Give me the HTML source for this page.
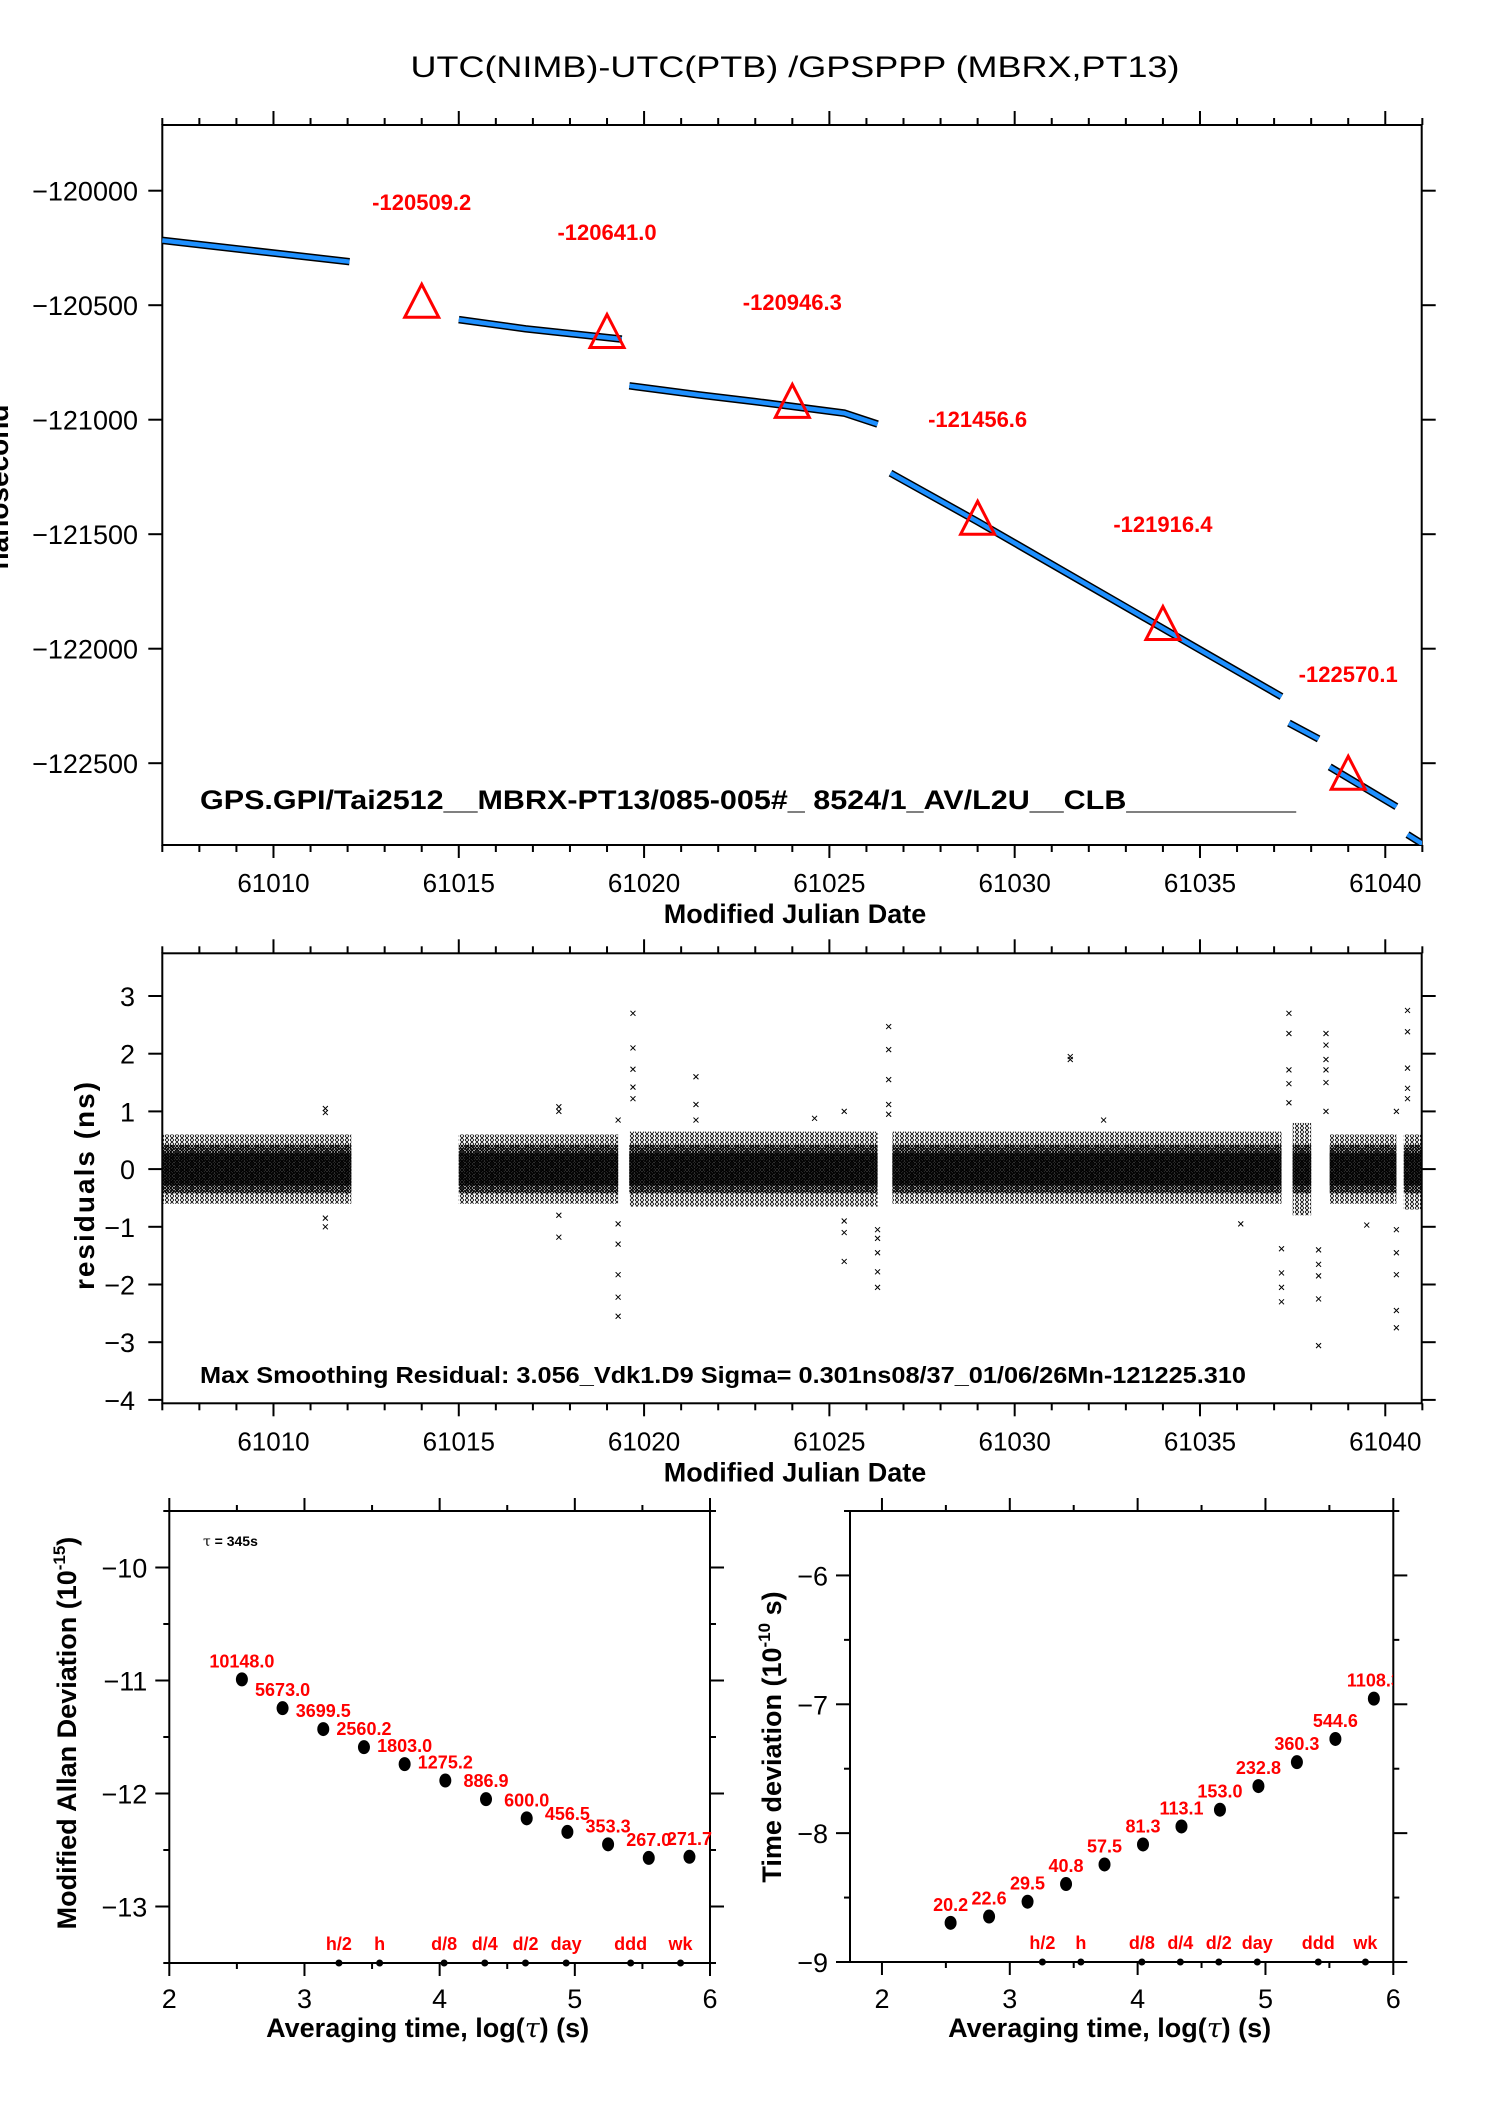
<!DOCTYPE html>
<html><head><meta charset="utf-8"><style>
html,body{margin:0;padding:0;background:#fff}
svg{display:block}
text{font-family:"Liberation Sans",Arial,sans-serif}
</style></head><body>
<svg id="svg" width="1488" height="2105" viewBox="0 0 1488 2105" xmlns="http://www.w3.org/2000/svg">
<defs>
<pattern id="xp" width="3" height="3" patternUnits="userSpaceOnUse"><path d="M0,0L3,3M3,0L0,3" stroke="#000" stroke-width="0.9"/></pattern>
<pattern id="xp2" width="5" height="4" patternUnits="userSpaceOnUse"><path d="M0,0L4,4M4,0L0,4" stroke="#000" stroke-width="0.8"/></pattern>
<clipPath id="clip1"><rect x="162" y="125" width="1260" height="720"/></clipPath>
<clipPath id="clip3r"><rect x="850" y="1400" width="543" height="600"/></clipPath>
</defs>
<text x="795" y="77" font-size="30" text-anchor="middle" textLength="769" lengthAdjust="spacingAndGlyphs">UTC(NIMB)-UTC(PTB)  /GPSPPP  (MBRX,PT13)</text>
<g id="g1"></g>
<g id="g2"></g>
<g id="g3"></g>
<g id="g4"></g>
</svg>
<script>
// ---- Panel 1 data ----
const seg1X=[[61007,61012.05],[61015,61016.8,61019.4],[61019.6,61021.5,61023,61025.4,61026.3],[61026.65,61029,61032,61035,61037.2],[61037.4,61038.2],[61038.5,61040.3],[61040.6,61041]];
const seg1Y=[[-120217,-120310],[-120563,-120603,-120648],[-120852,-120892,-120921,-120971,-121019],[-121233,-121445,-121725,-122005,-122209],[-122325,-122394],[-122516,-122690],[-122812,-122852]];
const triDays=[61014,61019,61024,61029,61034,61039];
const triVals=[-120509.2,-120641.0,-120946.3,-121456.6,-121916.4,-122570.1];
const triLabels=["-120509.2","-120641.0","-120946.3","-121456.6","-121916.4","-122570.1"];
const p1YTicks=[-120000,-120500,-121000,-121500,-122000,-122500];
const p1YTickLabels=["\u2212120000","\u2212120500","\u2212121000","\u2212121500","\u2212122000","\u2212122500"];
const mjdTicks=[61010,61015,61020,61025,61030,61035,61040];
// ---- Panel 2 data ----
const bandStart=[61007,61015,61019.6,61026.7,61037.5,61038.5,61040.5];
const bandEnd=[61012.1,61019.3,61026.3,61037.2,61038.0,61040.3,61041];
const bandLo=[-0.6,-0.6,-0.65,-0.6,-0.8,-0.6,-0.7];
const bandHi=[0.6,0.6,0.65,0.65,0.8,0.6,0.6];
const outX=[61011.4,61011.4,61011.4,61011.4,61017.7,61017.7,61017.7,61017.7,61019.3,61019.3,61019.3,61019.3,61019.3,61019.3,61019.7,61019.7,61019.7,61019.7,61019.7,61021.4,61021.4,61021.4,61025.4,61025.4,61025.4,61025.4,61026.3,61026.3,61026.3,61026.3,61026.3,61026.6,61026.6,61026.6,61026.6,61026.6,61031.5,61031.5,61037.2,61037.2,61037.2,61037.2,61037.4,61037.4,61037.4,61037.4,61037.4,61038.2,61038.2,61038.2,61038.2,61038.2,61038.4,61038.4,61038.4,61038.4,61038.4,61038.4,61040.3,61040.3,61040.3,61040.3,61040.3,61040.3,61040.6,61040.6,61040.6,61040.6,61040.6,61039.5,61036.1,61024.6,61032.4];
const outY=[1.05,0.98,-0.85,-1.0,1.08,1.0,-0.8,-1.18,0.85,-0.95,-1.3,-1.83,-2.22,-2.55,2.7,2.1,1.73,1.42,1.22,1.6,1.12,0.85,1.0,-0.9,-1.1,-1.6,-1.05,-1.2,-1.45,-1.78,-2.05,2.47,2.07,1.55,1.12,0.95,1.95,1.9,-1.38,-1.8,-2.05,-2.3,2.7,2.35,1.72,1.48,1.15,-1.4,-1.65,-1.85,-2.25,-3.06,2.35,2.15,1.9,1.72,1.5,1.0,1.0,-1.05,-1.45,-1.83,-2.45,-2.75,2.75,2.38,1.75,1.4,1.22,-0.97,-0.95,0.88,0.85];
const p2YTicks=[3,2,1,0,-1,-2,-3,-4];
const p2YTickLabels=["3","2","1","0","\u22121","\u22122","\u22123","\u22124"];
// ---- Panel 3 data ----
const logTau=[2.537,2.838,3.139,3.44,3.741,4.042,4.343,4.644,4.945,5.246,5.547,5.848];
const mdevVals=[-10.99,-11.245,-11.43,-11.59,-11.74,-11.885,-12.05,-12.22,-12.34,-12.45,-12.57,-12.56];
const mdevLabels=["10148.0","5673.0","3699.5","2560.2","1803.0","1275.2","886.9","600.0","456.5","353.3","267.0","271.7"];
const tdevVals=[-8.696,-8.647,-8.532,-8.395,-8.243,-8.088,-7.948,-7.818,-7.635,-7.449,-7.269,-6.956];
const tdevLabels=["20.2","22.6","29.5","40.8","57.5","81.3","113.1","153.0","232.8","360.3","544.6","1108.3"];
const markLog=[3.255,3.556,4.033,4.334,4.635,4.936,5.413,5.782];
const markNames=["h/2","h","d/8","d/4","d/2","day","ddd","wk"];
const p3XTicks=[2,3,4,5,6];
const mdevYTicks=[-10,-11,-12,-13];
const tdevYTicks=[-6,-7,-8,-9];

const NS="http://www.w3.org/2000/svg";
function mk(parent,tag,attrs,txt){const e=document.createElementNS(NS,tag);for(const k in attrs)e.setAttribute(k,attrs[k]);if(txt!==undefined)e.textContent=txt;parent.appendChild(e);return e;}
function line(p,x1,y1,x2,y2,w){return mk(p,'line',{x1:x1,y1:y1,x2:x2,y2:y2,stroke:'#000','stroke-width':w||2});}

// ---- Panel 1 ----
const g1=document.getElementById('g1');
const X1=d=>162.3+(d-61007)*37.06;
const Y1=v=>190.7+(-120000-v)*0.229;
const P1={l:162.3,r:1421.7,t:125,b:845};
function mjdAxes(g,P){
  const f=mk(g,'rect',{x:P.l,y:P.t,width:P.r-P.l,height:P.b-P.t,fill:'none',stroke:'#000','stroke-width':2});
  
  
  for(let d=61007;d<=61041;d++){
    const x=X1(d);const maj=(d%5===0);
    line(g,x,P.t,x,P.t-(maj?14:7));
    line(g,x,P.b,x,P.b+(maj?13:7));
  }
  mjdTicks.forEach(d=>{
    const t=mk(g,'text',{x:X1(d),y:P.b+47,'font-size':26,'text-anchor':'middle'},String(d));
    
    
  });
  const xt=mk(g,'text',{x:795,y:P.b+78,'font-size':27,'font-weight':'bold','text-anchor':'middle'},'Modified Julian Date');
  
  
}
mjdAxes(g1,P1);
p1YTicks.forEach((v,i)=>{
  const y=Y1(v);line(g1,P1.l-14,y,P1.l,y);line(g1,P1.r,y,P1.r+14,y);
  const t=mk(g1,'text',{x:138,y:y+10,'font-size':27,'text-anchor':'end'},p1YTickLabels[i]);
  
  
});
const yl1=mk(g1,'text',{x:0,y:0,'font-size':28,'font-weight':'bold','text-anchor':'middle',transform:'translate(8,487) rotate(-90)'},'nanosecond');


const lg=mk(g1,'g',{'clip-path':'url(#clip1)'});
seg1X.forEach((xs,i)=>{
  const pts=xs.map((d,j)=>X1(d).toFixed(1)+','+Y1(seg1Y[i][j]).toFixed(1)).join(' ');
  mk(lg,'polyline',{points:pts,fill:'none',stroke:'#000','stroke-width':7.5});
  const pl=mk(lg,'polyline',{points:pts,fill:'none',stroke:'#1e90ff','stroke-width':4.5});
  
  
});
triDays.forEach((d,i)=>{
  const x=X1(d),y=Y1(triVals[i]);
  const tr=mk(g1,'polygon',{points:`${x},${y-23} ${x-17},${y+10} ${x+17},${y+10}`,fill:'none',stroke:'#f00','stroke-width':3});
  
  
  const t=mk(g1,'text',{x:x,y:Y1(triVals[i]+460)+8,'font-size':22,'font-weight':'bold',fill:'#f00','text-anchor':'middle'},triLabels[i]);
  
  
});
const an1=mk(g1,'text',{x:200,y:809,'font-size':27,'font-weight':'bold',textLength:1096,lengthAdjust:'spacingAndGlyphs'},'GPS.GPI/Tai2512__MBRX-PT13/085-005#_  8524/1_AV/L2U__CLB__________');



// ---- Panel 2 ----
const g2=document.getElementById('g2');
const P2={l:162.3,r:1421.7,t:953.3,b:1403.3};
const Y2=v=>953.3+(3.74-v)*57.7;
mjdAxes(g2,P2);
p2YTicks.forEach((v,i)=>{
  const y=Y2(v);line(g2,P2.l-14,y,P2.l,y);line(g2,P2.r,y,P2.r+14,y);
  const t=mk(g2,'text',{x:135,y:y+10,'font-size':27,'text-anchor':'end'},p2YTickLabels[i]);
  
  
});
const yl2=mk(g2,'text',{x:0,y:0,'font-size':28,'font-weight':'bold','text-anchor':'middle','letter-spacing':'2',transform:'translate(94,1185) rotate(-90)'},'residuals (ns)');


bandStart.forEach((s,i)=>{
  const x1=X1(s),x2=X1(bandEnd[i]);
  const b=mk(g2,'rect',{x:x1,y:Y2(bandHi[i]),width:x2-x1,height:Y2(bandLo[i])-Y2(bandHi[i]),fill:'url(#xp2)'});
  
  
  mk(g2,'rect',{x:x1,y:Y2(0.42),width:x2-x1,height:Y2(-0.42)-Y2(0.42),fill:'url(#xp)'});
  mk(g2,'rect',{x:x1,y:Y2(0.28),width:x2-x1,height:Y2(-0.28)-Y2(0.28),fill:'#000',opacity:0.7});
});
outX.forEach((d,i)=>{
  const x=X1(d),y=Y2(outY[i]);
  const p=mk(g2,'path',{d:`M${x-2.5},${y-2.5}L${x+2.5},${y+2.5}M${x+2.5},${y-2.5}L${x-2.5},${y+2.5}`,stroke:'#000','stroke-width':1});
  
  
});
const an2=mk(g2,'text',{x:200,y:1383,'font-size':23,'font-weight':'bold',textLength:1046,lengthAdjust:'spacingAndGlyphs'},'Max Smoothing Residual: 3.056_Vdk1.D9  Sigma= 0.301ns08/37_01/06/26Mn-121225.310');



// ---- Panel 3 (two stability plots) ----
function stabPanel(g,P,xmin,xmax,ymax,ymin,yTicks,vals,labels,ylabelMain,sup,ylabelEnd,ylx,yly,clip){
  const X=v=>P.l+(v-xmin)*(P.r-P.l)/(xmax-xmin);
  const Y=v=>P.t+(ymax-v)*(P.b-P.t)/(ymax-ymin);
  const f=mk(g,'rect',{x:P.l,y:P.t,width:P.r-P.l,height:P.b-P.t,fill:'none',stroke:'#000','stroke-width':2});
  
  
  for(let v=2;v<=6;v+=0.5){
    if(v<xmin)continue;const x=X(v);const maj=Number.isInteger(v);
    line(g,x,P.t,x,P.t-(maj?13:6));line(g,x,P.b,x,P.b+(maj?13:6));
  }
  p3XTicks.forEach(v=>{
    const t=mk(g,'text',{x:X(v),y:2008,'font-size':27,'text-anchor':'middle'},String(v));
    
    
  });
  for(let v=Math.ceil(ymin*2)/2;v<=ymax;v+=0.5){
    const y=Y(v);const maj=Number.isInteger(v);
    line(g,P.l-(maj?14:6),y,P.l,y);line(g,P.r,y,P.r+(maj?14:6),y);
  }
  yTicks.forEach(v=>{
    const t=mk(g,'text',{x:P.l-22,y:Y(v)+10,'font-size':27,'text-anchor':'end'},'\u2212'+Math.abs(v));
    
    
  });
  const xt=mk(g,'text',{x:(P.l+P.r)/2-12,y:2037,'font-size':27,'font-weight':'bold','text-anchor':'middle'});
  
  
  xt.innerHTML='Averaging time, log(<tspan font-family="DejaVu Serif" font-weight="normal" font-style="italic">τ</tspan>) (s)';
  const yl=mk(g,'text',{x:0,y:0,'font-size':27,'font-weight':'bold','text-anchor':'middle',transform:`translate(${ylx},${yly}) rotate(-90)`});
  
  
  yl.innerHTML=`${ylabelMain}<tspan font-size="17" dy="-11">${sup}</tspan><tspan dy="11">${ylabelEnd}</tspan>`;
  const cg=mk(g,'g',{'clip-path':clip});
  logTau.forEach((lt,i)=>{
    const x=X(lt),y=Y(vals[i]);
    const c=mk(g,'ellipse',{cx:x,cy:y,rx:6,ry:7,fill:'#000'});
    
    
    const t=mk(cg,'text',{x:x,y:y-12,'font-size':18,'font-weight':'bold',fill:'#f00','text-anchor':'middle'},labels[i]);
    
    
  });
  markLog.forEach((lt,i)=>{
    const x=X(lt);
    const c=mk(g,'circle',{cx:x,cy:P.b,r:3.5,fill:'#000'});
    
    
    const t=mk(g,'text',{x:x,y:P.b-13,'font-size':18,'font-weight':'bold',fill:'#f00','text-anchor':'middle'},markNames[i]);
    
    
  });
}
const g3=document.getElementById('g3');
stabPanel(g3,{l:169.3,r:710,t:1511,b:1963},2,6,-9.5,-13.5,mdevYTicks,mdevVals,mdevLabels,'Modified Allan Deviation (10','-15',')',76,1733,'none');
const tau=mk(g3,'text',{x:203,y:1546,'font-size':14,'font-weight':'bold'});


tau.innerHTML='<tspan font-family="DejaVu Serif" font-weight="normal">τ</tspan> = 345s';
const g4=document.getElementById('g4');
stabPanel(g4,{l:850,r:1393.3,t:1511,b:1962},1.75,6,-5.5,-9,tdevYTicks,tdevVals,tdevLabels,'Time deviation (10','-10',' s)',781,1737,'url(#clip3r)');
</script>
</body></html>
